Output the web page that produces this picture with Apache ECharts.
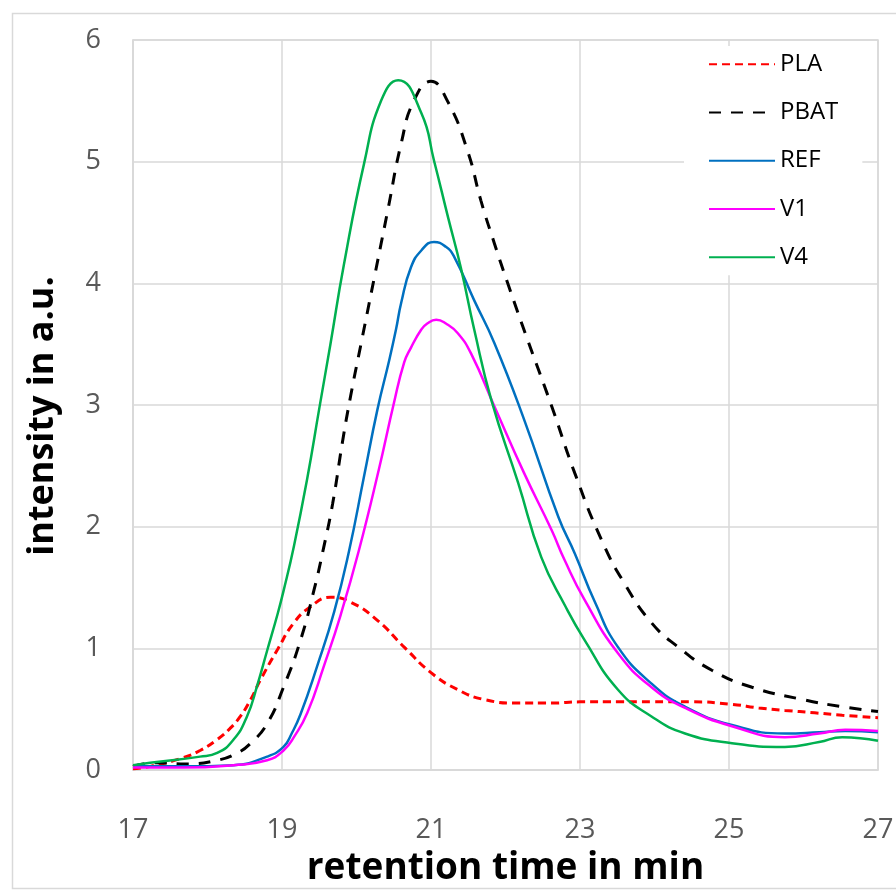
<!DOCTYPE html>
<html>
<head>
<meta charset="utf-8">
<script src="https://cdn.jsdelivr.net/npm/echarts@6/dist/echarts.min.js"></script>
<style>html,body{margin:0;padding:0;background:#fff;}#c{width:896px;height:891px;}</style>
</head>
<body>
<div id="c"></div>
<script>
var seriesNames = ['PLA', 'PBAT', 'REF', 'V1', 'V4'];
var xTicks = [17, 19, 21, 23, 25, 27];
var yTicks = [0, 1, 2, 3, 4, 5, 6];

var plaX = [17, 17.23, 17.67, 17.90, 18.13, 18.30, 18.44, 18.58, 18.71, 18.94, 19.16, 19.38, 19.65, 19.92, 20.28, 20.64, 21.0, 21.36, 21.71, 22.17, 22.62, 23.0, 23.5, 23.96, 24.5, 25.04, 25.4, 25.75, 26.15, 26.52, 27];
var plaY = [0.01, 0.03, 0.10, 0.16, 0.25, 0.34, 0.44, 0.58, 0.74, 0.99, 1.21, 1.34, 1.42, 1.38, 1.23, 1.01, 0.80, 0.66, 0.58, 0.55, 0.55, 0.56, 0.56, 0.56, 0.56, 0.54, 0.51, 0.49, 0.47, 0.45, 0.43];

var pbatX = [17, 17.3, 17.7, 18.13, 18.40, 18.58, 18.80, 19.02, 19.25, 19.43, 19.56, 19.68, 19.81, 19.92, 20.06, 20.24, 20.42, 20.60, 20.77, 21.0, 21.22, 21.49, 21.67, 21.85, 22.03, 22.30, 22.62, 22.93, 23.29, 23.60, 23.96, 24.32, 24.77, 25.31, 25.98, 26.52, 27];
var pbatY = [0.03, 0.06, 0.05, 0.08, 0.14, 0.22, 0.38, 0.68, 1.07, 1.48, 1.83, 2.19, 2.69, 3.07, 3.50, 4.05, 4.60, 5.15, 5.50, 5.66, 5.50, 5.09, 4.68, 4.33, 4.00, 3.53, 2.99, 2.44, 1.89, 1.53, 1.21, 1.01, 0.82, 0.68, 0.58, 0.52, 0.48];

var refX = [17, 17.67, 18.35, 18.80, 19.02, 19.13, 19.25, 19.47, 19.70, 19.90, 20.10, 20.28, 20.44, 20.53, 20.60, 20.73, 20.87, 21.04, 21.2, 21.31, 21.58, 21.85, 22.25, 22.71, 22.93, 23.20, 23.51, 23.96, 24.41, 25.04, 25.75, 26.21, 26.56, 27];
var refY = [0.03, 0.03, 0.04, 0.11, 0.19, 0.30, 0.46, 0.85, 1.30, 1.80, 2.41, 2.96, 3.37, 3.62, 3.84, 4.13, 4.27, 4.34, 4.30, 4.22, 3.86, 3.51, 2.88, 2.08, 1.78, 1.38, 1.01, 0.71, 0.52, 0.37, 0.30, 0.31, 0.32, 0.31];

var v1X = [17, 17.67, 18.35, 18.80, 19.02, 19.17, 19.34, 19.56, 19.79, 20.03, 20.30, 20.50, 20.64, 20.73, 20.87, 20.95, 21.07, 21.2, 21.36, 21.54, 21.85, 22.25, 22.62, 22.79, 23.06, 23.51, 23.96, 24.41, 25.04, 25.75, 26.21, 26.56, 27];
var v1Y = [0.02, 0.02, 0.04, 0.08, 0.16, 0.28, 0.47, 0.85, 1.28, 1.80, 2.47, 3.01, 3.35, 3.47, 3.62, 3.67, 3.70, 3.67, 3.59, 3.42, 2.99, 2.44, 1.97, 1.73, 1.40, 0.96, 0.68, 0.51, 0.36, 0.27, 0.30, 0.33, 0.32];

var v4X = [17, 17.23, 17.90, 18.13, 18.35, 18.53, 18.67, 18.80, 18.94, 19.02, 19.16, 19.34, 19.50, 19.65, 19.83, 20.1, 20.33, 20.56, 20.87, 21.04, 21.23, 21.40, 21.58, 21.81, 22.17, 22.48, 22.80, 23.06, 23.51, 23.96, 24.41, 25.04, 25.75, 26.21, 26.52, 27];
var v4Y = [0.04, 0.06, 0.11, 0.14, 0.25, 0.44, 0.70, 0.98, 1.28, 1.47, 1.84, 2.40, 2.97, 3.50, 4.15, 4.98, 5.50, 5.67, 5.40, 5.01, 4.54, 4.13, 3.62, 3.04, 2.36, 1.75, 1.35, 1.07, 0.66, 0.44, 0.30, 0.22, 0.19, 0.23, 0.27, 0.24];

function pairs(xs, ys) { return xs.map(function (x, i) { return [x, ys[i]]; }); }

var styles = [
  { color: '#ff0000', width: 3, type: [8, 5] },
  { color: '#000000', width: 3, type: [12, 10] },
  { color: '#0070c0', width: 2.5, type: 'solid' },
  { color: '#ff00ff', width: 2.5, type: 'solid' },
  { color: '#00b050', width: 2.5, type: 'solid' }
];
var dataSets = [pairs(plaX, plaY), pairs(pbatX, pbatY), pairs(refX, refY), pairs(v1X, v1Y), pairs(v4X, v4Y)];

var chart = echarts.init(document.getElementById('c'), null, { renderer: 'canvas' });
var font = '"Open Sans", "Noto Sans", sans-serif';
chart.setOption({
  animation: false,
  backgroundColor: '#fff',
  textStyle: { fontFamily: font },
  graphic: [{
    type: 'rect', z: -10, silent: true,
    shape: { x: 12.5, y: 13.5, width: 900, height: 875 },
    style: { fill: 'none', stroke: '#d9d9d9', lineWidth: 1.5 }
  }],
  grid: { left: 133, right: 18, top: 40, bottom: 121, show: true, borderColor: '#d9d9d9', borderWidth: 1.5, backgroundColor: 'transparent', containLabel: false, outerBoundsMode: 'none' },
  xAxis: {
    type: 'value', min: xTicks[0], max: xTicks[xTicks.length - 1], interval: 2,
    axisLine: { show: true, lineStyle: { color: '#d9d9d9', width: 1.5 } },
    axisTick: { show: false },
    splitLine: { show: true, lineStyle: { color: '#d9d9d9', width: 1.5 } },
    axisLabel: { color: '#595959', fontSize: 27, margin: 47, fontFamily: font },
    name: 'retention time in min', nameLocation: 'middle', nameGap: 80, nameMoveOverlap: false,
    nameTextStyle: { color: '#000', fontSize: 37, fontWeight: 'bold', fontFamily: font }
  },
  yAxis: {
    type: 'value', min: yTicks[0], max: yTicks[yTicks.length - 1], interval: 1,
    axisLine: { show: true, lineStyle: { color: '#d9d9d9', width: 1.5 } },
    axisTick: { show: false },
    splitLine: { show: true, lineStyle: { color: '#d9d9d9', width: 1.5 } },
    axisLabel: { color: '#595959', fontSize: 27, margin: 32, fontFamily: font },
    name: 'intensity in a.u.', nameLocation: 'middle', nameGap: 72, nameRotate: 90,
    nameTextStyle: { color: '#000', fontSize: 36, fontWeight: 'bold', fontFamily: font, padding: [0, 22, 0, 0] }
  },
  legend: {
    orient: 'vertical', left: 684, top: 46,
    backgroundColor: '#fff',
    padding: [6, 24, 6, 24],
    itemWidth: 66, itemHeight: 14, itemGap: 24,
    itemStyle: { opacity: 0 },
    textStyle: { fontSize: 24, color: '#000', lineHeight: 24.25, fontFamily: font },
    data: seriesNames
  },
  series: seriesNames.map(function (n, i) {
    return {
      name: n, type: 'line', data: dataSets[i], showSymbol: false, symbol: 'none',
      smooth: 0.5,
      lineStyle: styles[i], itemStyle: { color: styles[i].color }
    };
  })
});
</script>
</body>
</html>
